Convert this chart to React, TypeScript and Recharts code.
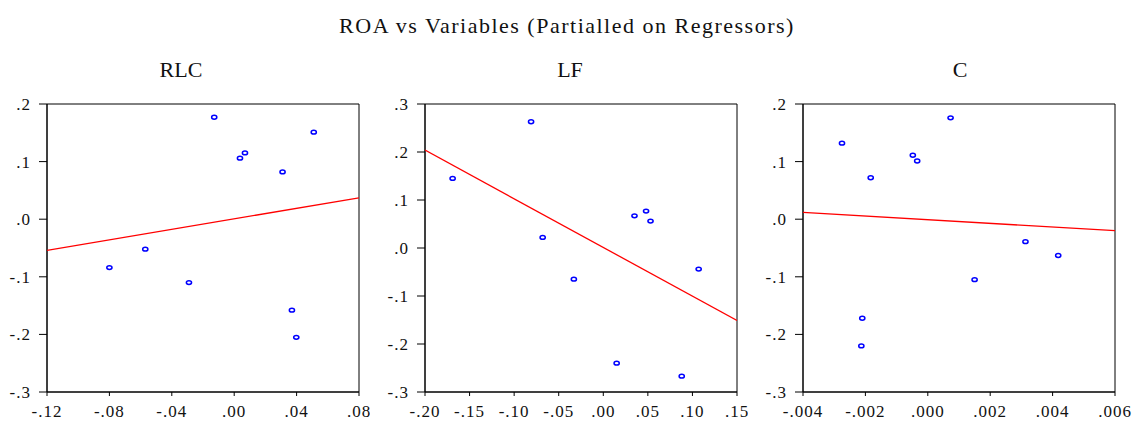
import React from "react";
import {
    ScatterChart,
    Scatter,
    XAxis,
    YAxis,
    ReferenceArea,
} from "recharts";

// partial regression points
const rlcX = [-0.0128, 0.0037, 0.0069, 0.031, 0.051, -0.08, -0.057, -0.029, 0.037, 0.0398];
const rlcY = [0.177, 0.106, 0.115, 0.082, 0.151, -0.084, -0.052, -0.11, -0.158, -0.205];
const rlcFitX = [-0.12, 0.08];
const rlcFitY = [-0.054, 0.037];

const lfX = [-0.081, -0.169, -0.068, -0.033, 0.035, 0.048, 0.053, 0.107, 0.015, 0.088];
const lfY = [0.263, 0.145, 0.022, -0.065, 0.067, 0.077, 0.056, -0.044, -0.24, -0.267];
const lfFitX = [-0.2, 0.15];
const lfFitY = [0.204, -0.151];

const cX = [-0.00275, -0.00183, -0.00048, -0.00034, 0.00073, 0.0015, 0.00313, 0.00418, -0.0021, -0.00213];
const cY = [0.132, 0.072, 0.111, 0.101, 0.176, -0.105, -0.039, -0.063, -0.172, -0.22];
const cFitX = [-0.004, 0.006];
const cFitY = [0.012, -0.02];

const rlcXTicks = [-0.12, -0.08, -0.04, 0, 0.04, 0.08];
const lfXTicks = [-0.2, -0.15, -0.1, -0.05, 0, 0.05, 0.1, 0.15];
const cXTicks = [-0.004, -0.002, 0, 0.002, 0.004, 0.006];
const y2Ticks = [-0.3, -0.2, -0.1, 0, 0.1, 0.2];
const y3Ticks = [-0.3, -0.2, -0.1, 0, 0.1, 0.2, 0.3];

const fmt = (d: number) => (v: number) => {
    const s = Math.abs(v).toFixed(d).replace(/^0/, "");
    return (v < -1e-9 ? "-" : "") + s;
};

const zip = (xs: number[], ys: number[]) => xs.map((x, i) => ({ x, y: ys[i] }));

const font = "'Liberation Serif', 'Times New Roman', serif";
const tickStyle = { fontSize: 17, fill: "#111", fontFamily: font, letterSpacing: 1 };

const Dot = (props: any) => (
    <ellipse cx={props.cx} cy={props.cy} rx={2.6} ry={1.9} fill="none" stroke="#0000ff" strokeWidth={1.5} />
);

type PanelProps = {
    left: number;
    width: number;
    xs: number[];
    ys: number[];
    fx: number[];
    fy: number[];
    xTicks: number[];
    yTicks: number[];
    xDec: number;
};

function Panel({ left, width, xs, ys, fx, fy, xTicks, yTicks, xDec }: PanelProps) {
    const xDom = [xTicks[0], xTicks[xTicks.length - 1]];
    const yDom = [yTicks[0], yTicks[yTicks.length - 1]];
    return (
        <div style={{ position: "absolute", left, top: 0 }}>
            <ScatterChart width={width} height={421} margin={{ top: 104, right: width - 359, bottom: 0, left: 0 }}>
                <XAxis
                    type="number"
                    dataKey="x"
                    domain={xDom}
                    ticks={xTicks}
                    allowDataOverflow
                    height={29}
                    tickSize={4}
                    tickMargin={9}
                    tickFormatter={fmt(xDec)}
                    tick={tickStyle}
                    stroke="#000"
                    interval={0}
                />
                <YAxis
                    type="number"
                    dataKey="y"
                    domain={yDom}
                    ticks={yTicks}
                    allowDataOverflow
                    width={47}
                    tickSize={8}
                    tickMargin={8}
                    tickFormatter={fmt(1)}
                    tick={tickStyle}
                    stroke="#000"
                    interval={0}
                />
                <ReferenceArea x1={xDom[0]} x2={xDom[1]} y1={yDom[0]} y2={yDom[1]} fill="none" stroke="#000" strokeOpacity={1} />
                <Scatter
                    data={zip(fx, fy)}
                    line={{ stroke: "#ff0000", strokeWidth: 1.3 }}
                    shape={() => <g />}
                    isAnimationActive={false}
                />
                <Scatter data={zip(xs, ys)} shape={Dot} isAnimationActive={false} />
            </ScatterChart>
        </div>
    );
}

export default function App() {
    return (
        <div style={{ position: "fixed", left: 0, top: 0, width: 1132, height: 421, background: "#fff", overflow: "hidden" }}>
            <svg width={1132} height={90} style={{ position: "absolute", left: 0, top: 0 }}>
                <g fontFamily={font} fill="#111" textAnchor="middle">
                    <text x={567} y={33} fontSize={22} letterSpacing={1.5}>
                        ROA vs Variables (Partialled on Regressors)
                    </text>
                    <text x={181} y={77} fontSize={22}>RLC</text>
                    <text x={570} y={77} fontSize={22}>LF</text>
                    <text x={960} y={77} fontSize={22}>C</text>
                </g>
            </svg>
            <Panel left={0} width={370} xs={rlcX} ys={rlcY} fx={rlcFitX} fy={rlcFitY} xTicks={rlcXTicks} yTicks={y2Ticks} xDec={2} />
            <Panel left={378} width={370} xs={lfX} ys={lfY} fx={lfFitX} fy={lfFitY} xTicks={lfXTicks} yTicks={y3Ticks} xDec={2} />
            <Panel left={756} width={376} xs={cX} ys={cY} fx={cFitX} fy={cFitY} xTicks={cXTicks} yTicks={y2Ticks} xDec={3} />
        </div>
    );
}
